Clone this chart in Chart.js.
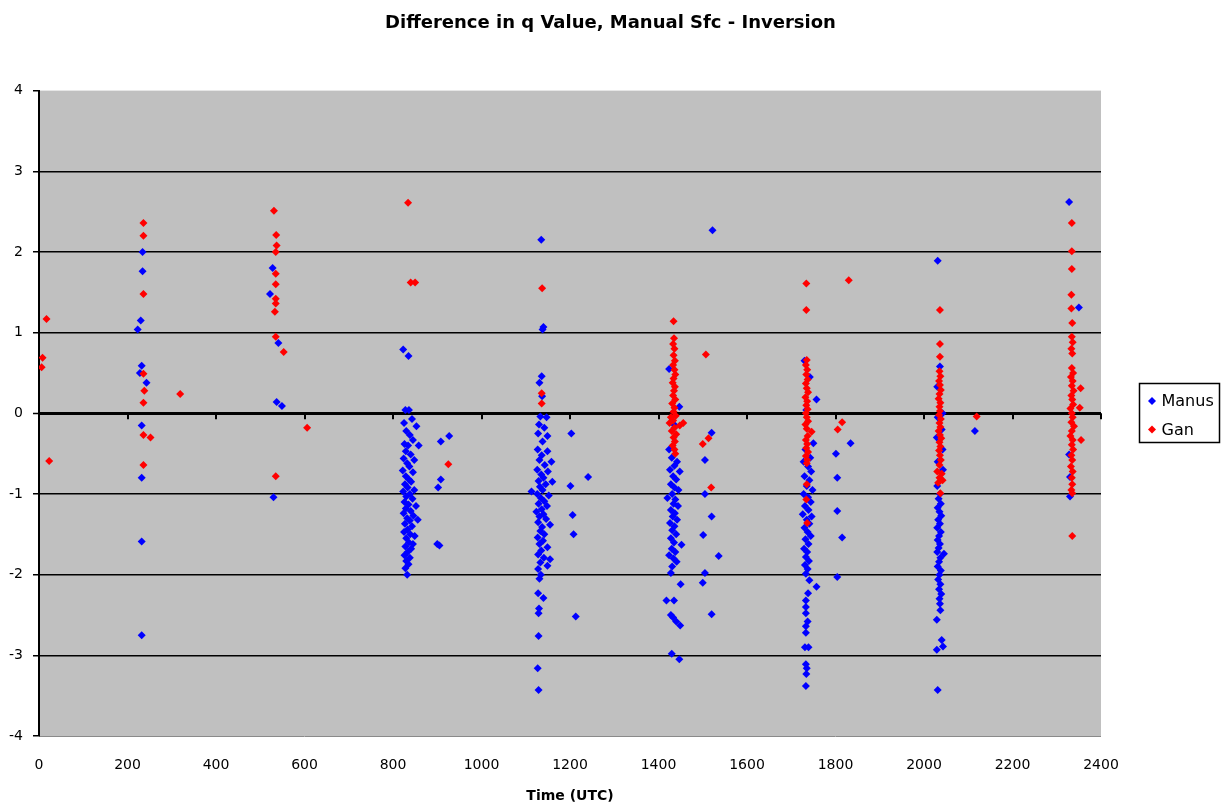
<!DOCTYPE html>
<html>
<head>
<meta charset="utf-8">
<script src="https://cdn.jsdelivr.net/npm/chart.js@4.4.1/dist/chart.umd.min.js"></script>
<style>
  html, body { margin: 0; padding: 0; background: #fff; }
  #wrap { width: 1221px; height: 805px; }
</style>
</head>
<body>
<div id="wrap"><canvas id="c" width="1221" height="805"></canvas></div>
<script>
// ---- Data (time UTC, q difference) ----
const titleText = 'Difference in q Value, Manual Sfc - Inversion';
const xTitle = 'Time (UTC)';
const seriesNames = ['Manus', 'Gan'];
const timeTicks = [0, 200, 400, 600, 800, 1000, 1200, 1400, 1600, 1800, 2000, 2200, 2400];
const qTicks = [-4, -3, -2, -1, 0, 1, 2, 3, 4];

const manusPoints = [
  // ~0230
  [234,2.0],[234,1.76],[230,1.15],[223,1.04],[232,0.59],[228,0.50],[243,0.38],[232,-0.15],[232,-0.80],[232,-1.59],[232,-2.75],
  // ~0530
  [528,1.80],[522,1.48],[541,0.87],[537,0.14],[549,0.09],[530,-1.04],
  // ~0830
  [823,0.79],[835,0.71],[828,0.04],[836,0.04],[843,-0.07],[853,-0.16],[825,-0.12],[830,-0.22],[838,-0.27],[845,-0.33],
  [826,-0.38],[834,-0.40],[858,-0.40],[829,-0.47],[840,-0.51],[824,-0.56],[848,-0.58],[832,-0.62],[837,-0.66],[822,-0.71],
  [845,-0.73],[829,-0.78],[836,-0.82],[841,-0.85],[827,-0.88],[833,-0.92],[848,-0.95],[823,-0.97],[838,-1.0],[830,-1.03],
  [844,-1.06],[826,-1.1],[835,-1.13],[852,-1.15],[829,-1.18],[840,-1.21],[824,-1.24],[846,-1.27],[832,-1.3],[838,-1.33],
  [856,-1.32],[827,-1.37],[843,-1.4],[833,-1.44],[825,-1.47],[839,-1.5],[849,-1.52],[830,-1.55],[836,-1.6],[845,-1.62],
  [828,-1.65],[841,-1.68],[833,-1.72],[826,-1.76],[838,-1.79],[830,-1.83],[835,-1.87],[828,-1.92],[832,-2.0],
  [927,-0.28],[908,-0.35],[908,-0.82],[902,-0.92],[905,-1.64],[900,-1.62],
  // ~1140
  [1135,2.15],[1138,1.04],[1140,1.07],[1136,0.46],[1131,0.38],[1137,0.21],[1133,-0.04],[1147,-0.05],[1128,-0.25],[1149,-0.28],
  [1138,-0.35],[1130,-0.14],[1142,-0.18],[1149,-0.47],[1127,-0.45],[1136,-0.52],[1158,-0.60],[1131,-0.58],[1143,-0.64],[1126,-0.70],
  [1150,-0.72],[1135,-0.76],[1140,-0.80],[1129,-0.84],[1160,-0.85],[1145,-0.88],[1132,-0.91],[1113,-0.97],[1138,-0.95],[1126,-1.0],
  [1152,-1.02],[1134,-1.05],[1142,-1.09],[1129,-1.12],[1148,-1.15],[1136,-1.19],[1124,-1.22],[1140,-1.25],[1131,-1.28],[1146,-1.31],
  [1155,-1.38],[1128,-1.35],[1137,-1.41],[1133,-1.46],[1142,-1.5],[1127,-1.54],[1139,-1.58],[1149,-1.66],[1131,-1.62],[1135,-1.7],
  [1128,-1.75],[1155,-1.81],[1141,-1.79],[1133,-1.85],[1149,-1.89],[1128,-1.93],[1134,-2.0],[1131,-2.05],[1128,-2.23],[1140,-2.29],
  [1130,-2.42],[1129,-2.48],[1129,-2.76],[1127,-3.16],[1129,-3.43],
  [1203,-0.25],[1241,-0.79],[1201,-0.90],[1206,-1.26],[1208,-1.50],[1213,-2.52],
  // ~1440
  [1424,0.55],[1447,0.08],[1435,-0.14],[1424,-0.45],[1430,-0.55],[1442,-0.6],[1436,-0.65],[1426,-0.7],[1448,-0.72],[1433,-0.78],
  [1440,-0.82],[1428,-0.88],[1436,-0.92],[1445,-0.95],[1431,-1.0],[1420,-1.05],[1438,-1.07],[1434,-1.12],[1444,-1.15],[1428,-1.2],
  [1437,-1.24],[1432,-1.28],[1442,-1.32],[1426,-1.36],[1436,-1.4],[1431,-1.45],[1440,-1.5],[1428,-1.55],[1435,-1.6],[1452,-1.63],
  [1430,-1.68],[1438,-1.72],[1424,-1.76],[1434,-1.8],[1441,-1.84],[1431,-1.9],[1428,-1.98],[1450,-2.12],[1418,-2.32],[1435,-2.32],
  [1428,-2.5],[1433,-2.53],[1440,-2.58],[1449,-2.63],[1430,-2.98],[1447,-3.05],
  [1522,2.27],[1520,-0.24],[1505,-0.58],[1505,-1.0],[1520,-1.28],[1501,-1.51],[1536,-1.77],[1505,-1.98],[1500,-2.10],[1520,-2.49],
  // ~1740
  [1730,0.65],[1742,0.45],[1734,0.04],[1757,0.17],[1750,-0.37],[1732,-0.45],[1743,-0.55],[1728,-0.6],[1738,-0.66],[1745,-0.72],
  [1730,-0.78],[1741,-0.83],[1735,-0.9],[1748,-0.95],[1728,-1.0],[1738,-1.04],[1744,-1.1],[1731,-1.15],[1739,-1.2],[1726,-1.25],
  [1746,-1.28],[1735,-1.32],[1741,-1.37],[1730,-1.42],[1737,-1.47],[1744,-1.52],[1732,-1.56],[1739,-1.62],[1729,-1.68],[1736,-1.72],
  [1733,-1.78],[1740,-1.83],[1731,-1.88],[1737,-1.93],[1733,-1.99],[1741,-2.07],[1757,-2.15],[1738,-2.23],[1733,-2.32],[1733,-2.40],
  [1733,-2.48],[1737,-2.58],[1733,-2.64],[1733,-2.72],[1731,-2.90],[1739,-2.90],[1733,-3.11],[1735,-3.16],[1734,-3.23],[1733,-3.38],
  [1834,-0.37],[1801,-0.50],[1804,-0.80],[1804,-1.21],[1815,-1.54],[1804,-2.03],
  // ~2035
  [2031,1.89],[2036,0.58],[2030,0.33],[2042,0.0],[2031,-0.05],[2040,-0.2],[2029,-0.3],[2042,-0.45],[2031,-0.6],[2043,-0.7],
  [2030,-0.9],[2036,-1.0],[2033,-1.06],[2038,-1.12],[2031,-1.17],[2035,-1.22],[2039,-1.27],[2032,-1.32],[2036,-1.37],[2030,-1.42],
  [2038,-1.47],[2034,-1.52],[2031,-1.57],[2036,-1.62],[2033,-1.67],[2045,-1.74],[2030,-1.72],[2037,-1.79],[2034,-1.84],[2031,-1.9],
  [2038,-1.95],[2035,-2.0],[2032,-2.06],[2037,-2.12],[2034,-2.18],[2039,-2.24],[2035,-2.3],[2036,-2.36],[2037,-2.44],[2029,-2.56],
  [2040,-2.81],[2043,-2.89],[2029,-2.93],[2031,-3.43],[2115,-0.22],
  // ~2335
  [2328,2.62],[2350,1.31],[2330,-1.03],[2328,-0.51],[2330,-0.79]
];

const ganPoints = [
  // ~0000
  [6,0.57],[8,0.69],[17,1.17],[23,-0.59],
  // ~0230
  [236,2.36],[236,2.2],[236,1.48],[236,0.49],[238,0.28],[236,0.13],[236,-0.27],[252,-0.30],[236,-0.64],[319,0.24],
  // ~0530
  [531,2.51],[536,2.21],[537,2.08],[535,2.0],[535,1.73],[535,1.6],[535,1.42],[535,1.36],[533,1.26],[535,0.95],[553,0.76],[535,-0.78],[606,-0.18],
  // ~0830
  [834,2.61],[840,1.62],[850,1.62],[925,-0.63],
  // ~1140
  [1137,1.55],[1136,0.25],[1136,0.12],
  // ~1440
  [1434,1.14],[1435,0.93],[1433,0.86],[1436,0.80],[1434,0.72],[1437,0.65],[1433,0.60],[1436,0.54],[1438,0.48],[1434,0.43],
  [1432,0.38],[1437,0.33],[1435,0.28],[1433,0.22],[1438,0.17],[1431,0.12],[1436,0.07],[1434,0.02],[1428,-0.05],[1439,-0.03],
  [1433,-0.09],[1456,-0.12],[1448,-0.15],[1425,-0.12],[1436,-0.18],[1430,-0.22],[1440,-0.26],[1434,-0.30],[1437,-0.35],[1432,-0.40],
  [1436,-0.45],[1438,-0.50],[1507,0.73],[1513,-0.31],[1500,-0.38],[1519,-0.92],
  // ~1740
  [1734,1.61],[1734,1.28],[1735,0.66],[1733,0.60],[1736,0.54],[1734,0.48],[1737,0.42],[1733,0.37],[1735,0.31],[1738,0.26],
  [1732,0.20],[1736,0.15],[1734,0.10],[1737,0.05],[1733,0.0],[1735,-0.05],[1738,-0.10],[1732,-0.14],[1746,-0.23],[1735,-0.19],
  [1737,-0.28],[1733,-0.33],[1736,-0.38],[1734,-0.43],[1738,-0.48],[1733,-0.53],[1736,-0.58],[1735,-0.62],[1735,-0.88],[1734,-1.07],
  [1736,-1.36],[1830,1.65],[1815,-0.11],[1805,-0.20],
  // ~2035
  [2036,1.28],[2036,0.86],[2036,0.70],[2035,0.52],[2037,0.46],[2034,0.40],[2036,0.35],[2038,0.29],[2035,0.24],[2033,0.18],
  [2037,0.13],[2035,0.08],[2036,0.03],[2034,-0.02],[2038,-0.07],[2035,-0.12],[2037,-0.17],[2033,-0.22],[2036,-0.27],[2039,-0.31],
  [2035,-0.36],[2037,-0.41],[2034,-0.46],[2036,-0.52],[2038,-0.58],[2035,-0.64],[2030,-0.72],[2040,-0.75],[2035,-0.8],[2042,-0.83],
  [2032,-0.86],[2037,-0.99],[2119,-0.04],
  // ~2335
  [2334,2.36],[2334,2.01],[2334,1.79],[2333,1.47],[2333,1.30],[2335,1.12],[2334,0.95],[2336,0.88],[2333,0.80],[2335,0.74],
  [2334,0.56],[2337,0.50],[2332,0.45],[2336,0.40],[2334,0.34],[2338,0.28],[2333,0.22],[2335,0.17],[2337,0.11],[2331,0.06],
  [2334,0.0],[2336,-0.05],[2333,-0.11],[2339,-0.16],[2334,-0.22],[2331,-0.28],[2336,-0.33],[2334,-0.39],[2337,-0.45],[2333,-0.52],
  [2335,-0.58],[2332,-0.66],[2336,-0.72],[2334,-0.8],[2335,-0.88],[2333,-0.95],[2335,-0.99],[2335,-1.52],[2354,0.31],[2352,0.07],[2355,-0.33]
];

const seriesColors = ['#0000FF', '#FF0000'];

// ---- Chart ----
const FONT = '"DejaVu Sans", "Liberation Sans", Arial, sans-serif';

const plotBg = {
  id: 'plotBg',
  beforeDraw(chart) {
    const {ctx, chartArea: a} = chart;
    ctx.save();
    ctx.fillStyle = '#C0C0C0';
    ctx.fillRect(a.left, a.top, a.right - a.left, a.bottom - a.top);
    ctx.strokeStyle = '#8a8a8a';
    ctx.lineWidth = 1;
    ctx.beginPath();
    ctx.moveTo(a.left, a.bottom + 0.5);
    ctx.lineTo(a.right, a.bottom + 0.5);
    ctx.stroke();
    ctx.restore();
  },
  beforeDatasetsDraw(chart) {
    // tick marks hanging below the zero line (category axis crossing at 0)
    const {ctx, scales} = chart;
    const y0 = scales.y.getPixelForValue(0);
    ctx.save();
    ctx.strokeStyle = '#000';
    ctx.lineWidth = 2;
    ctx.beginPath();
    timeTicks.forEach(v => {
      const x = Math.round(scales.x.getPixelForValue(v));
      ctx.moveTo(x, y0);
      ctx.lineTo(x, y0 + 6);
    });
    ctx.stroke();
    ctx.restore();
  }
};

const boxLegend = {
  id: 'boxLegend',
  afterDraw(chart) {
    const ctx = chart.ctx;
    const bx = 1139.5, by = 383.5, bw = 80, bh = 59;
    ctx.save();
    ctx.fillStyle = '#fff';
    ctx.fillRect(bx, by, bw, bh);
    ctx.strokeStyle = '#000';
    ctx.lineWidth = 1.5;
    ctx.strokeRect(bx, by, bw, bh);
    chart.data.datasets.forEach((ds, i) => {
      const cy = by + 17.5 + i * 28.5;
      const cx = 1152;
      const r = 4;
      ctx.fillStyle = ds.backgroundColor;
      ctx.beginPath();
      ctx.moveTo(cx, cy - r); ctx.lineTo(cx + r, cy); ctx.lineTo(cx, cy + r); ctx.lineTo(cx - r, cy); ctx.closePath();
      ctx.fill();
      ctx.fillStyle = '#000';
      ctx.font = '16px ' + FONT;
      ctx.textBaseline = 'middle';
      ctx.textAlign = 'left';
      ctx.fillText(ds.label, 1161.5, cy + 1);
    });
    ctx.restore();
  }
};

const toXY = arr => arr.map(p => ({x: p[0], y: p[1]}));

new Chart(document.getElementById('c'), {
  type: 'scatter',
  data: {
    datasets: [
      { label: seriesNames[0], data: toXY(manusPoints), backgroundColor: seriesColors[0], borderColor: seriesColors[0],
        pointStyle: 'rectRot', pointRadius: 4, borderWidth: 0, order: 1 },
      { label: seriesNames[1], data: toXY(ganPoints), backgroundColor: seriesColors[1], borderColor: seriesColors[1],
        pointStyle: 'rectRot', pointRadius: 4, borderWidth: 0, order: 0 }
    ]
  },
  options: {
    responsive: false,
    animation: false,
    devicePixelRatio: 1,
    layout: { padding: 0 },
    plugins: {
      legend: { display: false },
      tooltip: { enabled: false },
      title: {
        display: true, text: titleText, color: '#000',
        font: { family: FONT, size: 18, weight: 'bold' },
        padding: { top: 13, bottom: 56 }
      }
    },
    scales: {
      x: {
        type: 'linear', position: 'bottom', min: 0, max: 2400,
        afterFit: s => { s.height = 69; },
        afterBuildTicks: s => { s.ticks = timeTicks.map(v => ({value: v})); },
        grid: { display: false },
        border: { display: false },
        ticks: { color: '#000', font: { family: FONT, size: 14 }, padding: 13, maxRotation: 0, autoSkip: false,
                 callback: v => String(v) },
        title: { display: true, text: xTitle, color: '#000', font: { family: FONT, size: 14, weight: 'bold' }, padding: { top: 0, bottom: 0 } }
      },
      y: {
        type: 'linear', position: 'left', min: -4, max: 4,
        afterFit: s => { s.width = 39; },
        afterBuildTicks: s => { s.ticks = qTicks.map(v => ({value: v})); },
        grid: {
          color: c => (c.tick && (c.tick.value === 4 || c.tick.value === -4)) ? 'rgba(0,0,0,0)' : '#000',
          lineWidth: c => (c.tick && c.tick.value === 0) ? 3 : 1.5,
          drawTicks: true, tickLength: 6, tickColor: '#000', tickWidth: 1.5
        },
        border: { display: true, color: '#000', width: 2 },
        ticks: { color: '#000', font: { family: FONT, size: 14 }, padding: 10, callback: v => String(v) }
      },
      yRight: {
        type: 'linear', position: 'right', min: -4, max: 4,
        afterFit: s => { s.width = 120; },
        grid: { display: false, drawOnChartArea: false },
        border: { display: false },
        ticks: { display: false }
      }
    }
  },
  plugins: [plotBg, boxLegend]
});
</script>
</body>
</html>
